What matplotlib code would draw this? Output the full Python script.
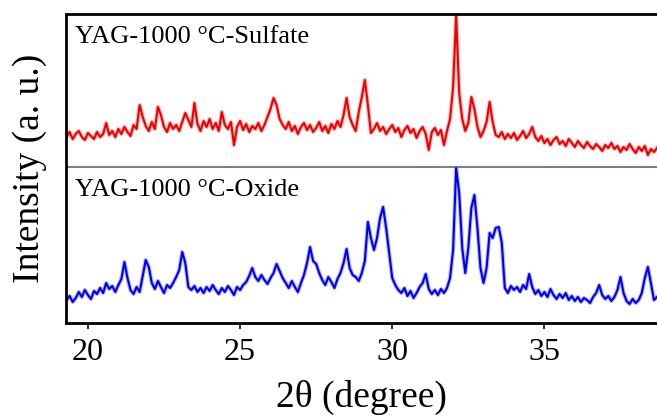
# XRD 对比图: YAG-1000 °C 硫酸盐 / 氧化物
import matplotlib.pyplot as plt
import numpy as np

plt.rcParams['font.family'] = ['Liberation Serif', 'DejaVu Serif']

START_2THETA = 19.3  # 扫描起点
STEP_2THETA = 0.1  # 扫描步长

# 强度读数 (a.u.)，各自相对本面板底部
sulfate = [30, 35, 28, 33, 36, 30, 27, 34, 31, 28, 35, 30, 33, 44, 32, 36, 30, 38, 33, 40,
           35, 31, 42, 38, 62, 50, 41, 36, 45, 38, 60, 52, 40, 35, 44, 38, 42, 36, 45, 54,
           47, 40, 64, 43, 36, 46, 40, 48, 38, 44, 36, 55, 42, 38, 45, 22, 40, 46, 37, 43,
           35, 41, 38, 44, 36, 42, 50, 58, 69, 62, 48, 42, 38, 45, 36, 41, 33, 40, 44, 37,
           42, 35, 39, 45, 36, 41, 34, 43, 38, 46, 40, 52, 69, 50, 42, 36, 55, 70, 87, 62,
           34, 38, 44, 36, 40, 33, 38, 42, 35, 39, 30, 37, 41, 34, 38, 29, 36, 40, 33, 17,
           35, 39, 32, 37, 22, 36, 48, 80, 152, 74, 48, 36, 44, 70, 58, 40, 30, 36, 45, 65,
           45, 32, 30, 35, 28, 33, 29, 34, 27, 31, 36, 29, 33, 40, 30, 26, 31, 24, 28, 22,
           27, 30, 23, 26, 21, 28, 24, 20, 26, 22, 19, 25, 21, 18, 23, 20, 16, 22, 19, 24,
           18, 21, 15, 20, 17, 23, 18, 14, 20, 16, 21, 12, 18, 15, 19]
oxide = [23, 27, 21, 25, 31, 26, 33, 28, 24, 32, 29, 35, 30, 40, 34, 37, 31, 38, 44, 61,
         45, 33, 29, 36, 31, 47, 63, 56, 40, 34, 42, 36, 30, 38, 35, 40, 46, 53, 71, 60,
         36, 33, 37, 31, 35, 30, 36, 32, 38, 33, 29, 35, 31, 37, 33, 28, 36, 33, 38, 41,
         47, 55, 46, 42, 48, 43, 39, 45, 50, 59, 52, 45, 40, 35, 42, 36, 31, 40, 48, 60,
         76, 62, 59, 50, 43, 38, 46, 41, 35, 44, 50, 60, 74, 55, 48, 46, 42, 50, 62, 101,
         85, 73, 85, 105, 116, 95, 70, 45, 38, 33, 30, 35, 27, 32, 25, 30, 36, 40, 49, 34,
         29, 33, 28, 34, 30, 35, 45, 73, 155, 130, 75, 50, 75, 115, 128, 95, 55, 40, 55, 90,
         85, 95, 96, 80, 35, 30, 37, 33, 36, 31, 38, 34, 49, 36, 29, 33, 27, 31, 26, 34,
         28, 24, 29, 25, 30, 23, 27, 22, 26, 21, 25, 23, 20, 26, 30, 38, 28, 24, 27, 22,
         26, 33, 46, 30, 22, 19, 24, 20, 23, 30, 45, 56, 40, 23, 26]

labels = ['YAG-1000 °C-Sulfate', 'YAG-1000 °C-Oxide']
x_ticks = [20, 25, 30, 35]

PANEL_H = 156  # 上面板的偏移量
two_theta = START_2THETA + STEP_2THETA * np.arange(len(sulfate))
sul_y = np.array(sulfate) + PANEL_H
oxi_y = np.array(oxide)

fig = plt.figure(figsize=(6.57, 4.16), dpi=100)
ax = fig.add_axes([66 / 657, 1 - 323 / 416, 591 / 657, 309 / 416])

# 浅色宽线 + 深色细线, 模拟原图的毛边
ax.plot(two_theta, oxi_y, color='#7070ff', linewidth=3, alpha=0.5)
ax.plot(two_theta, oxi_y, color='#0000ee', linewidth=1.5)
ax.plot(two_theta, sul_y, color='#ff7070', linewidth=3, alpha=0.5)
ax.plot(two_theta, sul_y, color='#ee0000', linewidth=1.5)
ax.axhline(PANEL_H, color='gray', linewidth=1.5, zorder=1)

ax.set_xlim(19.28, 38.7)
ax.set_ylim(0, 309)
ax.set_xticks(x_ticks)
ax.set_yticks([])
ax.tick_params(axis='x', labelsize=23, length=4, width=1.2, pad=7)
for s in ['left', 'bottom', 'top']:
    ax.spines[s].set_linewidth(2)
ax.spines['right'].set_visible(False)

ax.text(0.015, 0.96, labels[0], transform=ax.transAxes, fontsize=19, va='top')
ax.text(0.015, 0.465, labels[1], transform=ax.transAxes, fontsize=19, va='top')

ax.set_xlabel('2θ (degree)', fontsize=27, labelpad=9)
ax.set_ylabel('Intensity (a. u.)', fontsize=27, labelpad=14)

plt.savefig('out.png', dpi=100)
